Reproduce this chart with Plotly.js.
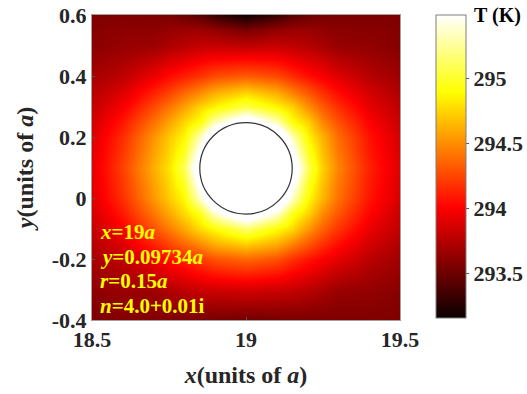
<!DOCTYPE html>
<html>
<head>
<meta charset="utf-8">
<script src="https://cdn.plot.ly/plotly-3.0.1.min.js"></script>
<style>html,body{margin:0;padding:0;background:#fff;}#chart{width:527px;height:394px;}</style>
</head>
<body>
<div id="chart"></div>
<script>
// sampled temperatures (K); each row follows xGrid, rows follow yGrid
var xGrid = [18.5, 18.6, 18.7, 18.75, 18.8, 18.85, 18.9, 19, 19.1, 19.15, 19.2, 19.25, 19.3, 19.4, 19.5];
var yGrid = [-0.4, -0.3, -0.2, -0.15, -0.1, -0.05, 0, 0.1, 0.2, 0.25, 0.3, 0.35, 0.4, 0.5, 0.55, 0.6];
var tYm040 = [293.56,293.58,293.57,293.56,293.55,293.54,293.53,293.52,293.53,293.54,293.54,293.55,293.56,293.57,293.56];
var tYm030 = [293.62,293.66,293.68,293.74,293.78,293.83,293.84,293.86,293.83,293.81,293.77,293.72,293.66,293.64,293.60];
var tYm020 = [293.71,293.79,293.97,294.06,294.13,294.21,294.30,294.37,294.29,294.18,294.08,294.00,293.92,293.77,293.68];
var tYm015 = [293.76,293.90,294.13,294.24,294.37,294.49,294.62,294.73,294.61,294.46,294.31,294.17,294.05,293.86,293.73];
var tYm010 = [293.81,294.00,294.29,294.44,294.59,294.77,294.89,295.14,294.89,294.76,294.53,294.34,294.19,293.94,293.79];
var tYm005 = [293.86,294.10,294.43,294.60,294.77,294.97,295.39,295.80,295.39,294.97,294.75,294.49,294.31,294.02,293.83];
var tY000  = [293.90,294.18,294.54,294.72,294.89,295.37,295.95,296.60,295.95,295.37,294.89,294.63,294.40,294.08,293.87];
var tY010  = [293.93,294.24,294.62,294.80,295.10,295.78,296.60,297.00,296.60,295.78,295.10,294.72,294.47,294.12,293.90];
var tY020  = [293.89,294.17,294.53,294.71,294.87,295.33,295.90,296.55,295.90,295.33,294.87,294.62,294.39,294.07,293.86];
var tY025  = [293.85,294.09,294.41,294.58,294.76,294.92,295.32,295.74,295.32,294.92,294.74,294.47,294.29,294.01,293.82];
var tY030  = [293.80,293.99,294.27,294.42,294.57,294.75,294.87,295.08,294.87,294.74,294.51,294.32,294.17,293.93,293.78];
var tY035  = [293.75,293.89,294.11,294.22,294.35,294.46,294.59,294.71,294.58,294.43,294.29,294.15,294.03,293.85,293.72];
var tY040  = [293.70,293.78,293.95,294.04,294.11,294.19,294.27,294.33,294.26,294.16,294.06,293.98,293.90,293.76,293.67];
var tY050  = [293.61,293.65,293.67,293.73,293.77,293.81,293.82,293.80,293.82,293.79,293.76,293.71,293.65,293.63,293.59];
var tY055  = [293.59,293.62,293.62,293.65,293.67,293.67,293.64,293.55,293.64,293.66,293.66,293.63,293.61,293.60,293.58];
var tY060  = [293.56,293.57,293.56,293.55,293.50,293.44,293.32,293.18,293.32,293.44,293.50,293.54,293.55,293.56,293.56];

var cbTicks = [293.5, 294, 294.5, 295];
var cbRange = [293.16, 295.49];
var xTicks = [18.5, 19, 19.5];
var xTickText = ['18.5', '19', '19.5'];
var yTicks = [-0.4, -0.2, 0, 0.2, 0.4, 0.6];
var yTickText = ['-0.4', '-0.2', '0', '0.2', '0.4', '0.6'];

// particle parameters
var particleX = [19];
var particleY = [0.09734];
var particleR = [0.15];
var infoLines = ['<i>x</i>=19<i>a</i>', '<i>y</i>=0.09734<i>a</i>', '<i>r</i>=0.15<i>a</i>', '<i>n</i>=4.0+0.01i'];

var z = [tYm040, tYm030, tYm020, tYm015, tYm010, tYm005, tY000, tY010, tY020, tY025, tY030, tY035, tY040, tY050, tY055, tY060];

var hot = [
  [0, 'rgb(10,0,0)'],
  [0.365, 'rgb(255,0,0)'],
  [0.746, 'rgb(255,255,0)'],
  [1, 'rgb(255,255,255)']
];

var fontFam = 'Liberation Serif, Times New Roman, serif';
var txtCol = '#262626';

var trace = {
  type: 'heatmap',
  x: xGrid, y: yGrid, z: z,
  zsmooth: 'best',
  zmin: cbRange[0], zmax: cbRange[1], zauto: false,
  colorscale: hot,
  showscale: true,
  colorbar: {
    xref: 'paper', yref: 'paper',
    x: (436 - 92) / 308, xanchor: 'left',
    y: 1, yanchor: 'top',
    len: 303 / 305, lenmode: 'fraction',
    thickness: 30, thicknessmode: 'pixels',
    xpad: 0, ypad: 0,
    outlinecolor: '#7f7f7f', outlinewidth: 1,
    tickvals: cbTicks,
    ticktext: cbTicks.map(String),
    ticks: 'outside', ticklen: 3, tickcolor: '#555',
    tickfont: {family: fontFam, size: 22, color: txtCol, weight: 'bold'}
  },
  hoverinfo: 'skip'
};

var shapes = particleX.map(function(cx, i){
  return {
    type: 'circle', xref: 'x', yref: 'y',
    x0: cx - particleR[i], x1: cx + particleR[i],
    y0: particleY[i] - particleR[i], y1: particleY[i] + particleR[i],
    line: {color: '#333333', width: 1.2},
    fillcolor: 'rgba(255,255,255,1)'
  };
});

var annotations = infoLines.map(function(t, i){
  return {
    xref: 'paper', yref: 'paper',
    x: 0.018, xanchor: 'left',
    y: (320 - 232) / 305 - i * (24.5 / 305), yanchor: 'middle',
    text: '<b>' + t + '</b>', showarrow: false,
    font: {family: fontFam, size: 21, color: '#ffff00'}
  };
});
annotations.push({
  xref: 'paper', yref: 'paper',
  x: (472 - 92) / 308, xanchor: 'left', y: 1, yanchor: 'middle',
  text: '<b>T (K)</b>', showarrow: false,
  font: {family: fontFam, size: 20, color: '#000'}
});

var layout = {
  width: 527, height: 394,
  margin: {l: 92, r: 127, t: 15, b: 74, pad: 0, autoexpand: false},
  paper_bgcolor: '#fff', plot_bgcolor: '#fff',
  showlegend: false,
  xaxis: {
    range: [18.5, 19.5], tickvals: xTicks, ticktext: xTickText,
    showgrid: false, zeroline: false,
    showline: true, mirror: true, linecolor: '#a0a0a0', linewidth: 1,
    ticks: 'inside', ticklen: 3, tickcolor: '#555',
    tickfont: {family: fontFam, size: 22, color: txtCol, weight: 'bold'},
    title: {text: '<b><i>x</i>(units of <i>a</i>)</b>', standoff: 14,
            font: {family: fontFam, size: 24, color: txtCol}},
    automargin: false
  },
  yaxis: {
    range: [-0.4, 0.6], tickvals: yTicks, ticktext: yTickText,
    showgrid: false, zeroline: false,
    showline: true, mirror: true, linecolor: '#a0a0a0', linewidth: 1,
    ticks: 'inside', ticklen: 3, tickcolor: '#555',
    tickfont: {family: fontFam, size: 22, color: txtCol, weight: 'bold'},
    title: {text: '<b><i>y</i>(units of <i>a</i>)</b>', standoff: 11,
            font: {family: fontFam, size: 24, color: txtCol}},
    automargin: false
  },
  shapes: shapes,
  annotations: annotations
};

Plotly.newPlot('chart', [trace], layout, {staticPlot: true, displayModeBar: false});
</script>
</body>
</html>
